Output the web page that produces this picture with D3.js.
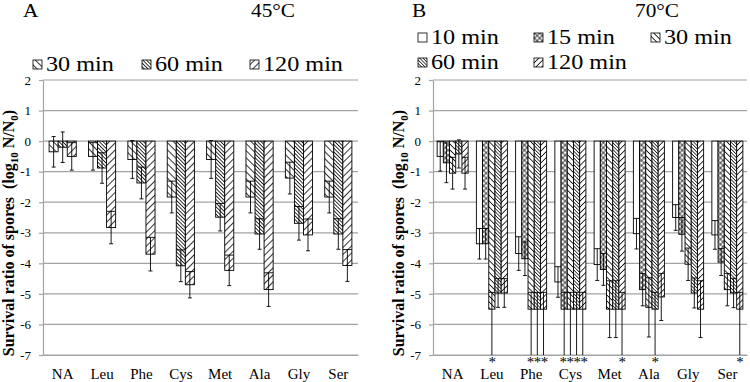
<!DOCTYPE html>
<html><head><meta charset="utf-8">
<script src="https://cdn.jsdelivr.net/npm/d3@7"></script>
<style>
body{margin:0;background:#fff}
svg{display:block;font-family:'Liberation Serif','Times New Roman','DejaVu Serif',serif}
svg text{font-family:'Liberation Serif','Times New Roman','DejaVu Serif',serif;fill:#000}
</style>
</head><body>
<svg id="c" width="750" height="382"></svg>
<script>
// ---------- data ----------
const categories = ["NA","Leu","Phe","Cys","Met","Ala","Gly","Ser"];
const yTicks = [2,1,0,-1,-2,-3,-4,-5,-6,-7];

// Panel A (45°C)
const seriesA = ["30 min","60 min","120 min"];
const a30  = [-0.35,-0.50,-0.60,-1.83,-0.60,-1.83,-1.21,-1.83];
const a60  = [-0.20,-0.88,-1.37,-4.08,-2.49,-3.04,-2.69,-3.04];
const a120 = [-0.50,-2.83,-3.70,-4.70,-4.23,-4.86,-3.07,-4.07];
const eA30  = [0.50,0.45,0.62,0.52,0.62,0.52,0.52,0.52];
const eA60  = [0.50,0.50,0.52,0.52,0.45,0.50,0.55,0.50];
const eA120 = [0.45,0.53,0.55,0.43,0.50,0.55,0.52,0.52];

// Panel B (70°C)
const seriesB = ["10 min","15 min","30 min","60 min","120 min"];
const b10  = [-0.50,-3.36,-3.68,-4.61,-4.04,-3.03,-2.50,-3.07];
const b15  = [-0.71,-3.36,-3.85,-5.50,-4.20,-4.86,-3.05,-3.96];
const b30  = [-1.05,-5.50,-5.50,-5.50,-5.50,-5.44,-4.03,-4.86];
const b60  = [-0.42,-4.97,-5.50,-5.50,-5.50,-5.50,-4.97,-4.97];
const b120 = [-1.05,-4.97,-5.50,-5.50,-5.50,-5.10,-5.50,-5.50];
const eB10  = [0.48,0.50,0.55,0.50,0.52,0.50,0.42,0.47];
const eB15  = [0.65,0.50,0.55,0.55,0.52,0.53,0.55,0.44];
const eB30  = [0.52,0.55,0.55,0.55,0.93,0.97,0.53,0.53];
const eB60  = [0.46,0.47,0.55,0.55,0.93,0.55,0.49,0.48];
const eB120 = [0.52,0.47,0.55,0.55,0.55,0.77,0.93,0.55];
// significance marks (below detection limit): 1 = asterisk
const sB10  = [0,0,0,0,0,0,0,0];
const sB15  = [0,0,0,1,0,0,0,0];
const sB30  = [0,1,1,1,0,0,0,0];
const sB60  = [0,0,1,1,0,1,0,0];
const sB120 = [0,0,1,1,1,0,0,1];

// ---------- drawing ----------
const FONT = "'Liberation Serif','Times New Roman','DejaVu Serif',serif";
const svg = d3.select("#c");
const defs = svg.append("defs");
function pattern(id, type, s, sw){
  const p = defs.append("pattern").attr("id",id).attr("patternUnits","userSpaceOnUse")
    .attr("width",s).attr("height",s)
    .attr("patternTransform", type==="fs" ? "rotate(45)" : "rotate(-45)");
  p.append("rect").attr("width",s).attr("height",s).attr("fill","#fff");
  p.append("line").attr("x1",s/2).attr("x2",s/2).attr("y1",0).attr("y2",s)
    .attr("stroke","#000").attr("stroke-width",sw);
  if(type==="x"){
    p.append("line").attr("y1",s/2).attr("y2",s/2).attr("x1",0).attr("x2",s)
      .attr("stroke","#000").attr("stroke-width",sw);
  }
}
pattern("pA30","bs",5,0.8);
pattern("pA60","bs",2.6,0.8);
pattern("pA120","fs",5,0.8);
pattern("pB15","x",3.6,0.7);
pattern("pB30","bs",4.2,0.8);
pattern("pB60","bs",2.4,0.7);
pattern("pB120","fs",4.2,0.8);

const y = d3.scaleLinear().domain([-7,2]).range([355,80]);
const grid = "#a3a3a3";

function panel(cfg){
  const g = svg.append("g");
  const x = d3.scaleBand().domain(categories).range([cfg.x0,cfg.x1]);
  const gw = x.bandwidth()*cfg.frac;
  const inner = d3.scaleBand().domain(cfg.series).range([0,gw]);
  // gridlines
  g.selectAll("line.grid").data(yTicks).join("line")
    .attr("x1",cfg.x0).attr("x2",cfg.x1).attr("y1",d=>y(d)).attr("y2",d=>y(d))
    .attr("stroke",grid).attr("stroke-width",1.2);
  // y axis
  const ya = g.append("g").attr("transform",`translate(${cfg.x0},0)`)
    .call(d3.axisLeft(y).tickValues(yTicks).tickFormat(d=>String(d)).tickSizeInner(4).tickSizeOuter(0).tickPadding(8));
  ya.selectAll("path,line").attr("stroke",grid).attr("stroke-width",1.2);
  ya.selectAll("text").attr("font-family",FONT).attr("font-size",13);
  // x axis
  const xa = g.append("g").attr("transform",`translate(0,${y(-7)})`)
    .call(d3.axisBottom(x).tickSize(0).tickPadding(13));
  xa.select("path").attr("stroke",grid).attr("stroke-width",1.2);
  xa.selectAll("text").attr("font-family",FONT).attr("font-size",15);

  // bars
  const bw = inner.bandwidth();
  const starPos = categories.map(()=>[]);
  cfg.series.forEach((s,si)=>{
    const vals = cfg.values[si], errs = cfg.errs[si], stars = cfg.stars ? cfg.stars[si] : null;
    categories.forEach((c,ci)=>{
      const v = vals[ci], e = errs[ci];
      const bx = x(c) + (x.bandwidth()-gw)/2 + inner(s);
      const cx = bx + bw/2;
      g.append("rect").attr("x",bx).attr("y",y(0)).attr("width",bw).attr("height",y(v)-y(0))
        .attr("fill", cfg.fills[si]).attr("stroke","#000").attr("stroke-width",0.9);
      const star = stars && stars[ci];
      const top = v+e, bot = star ? -7 : v-e;
      const cap = cfg.cap;
      g.append("line").attr("x1",cx).attr("x2",cx).attr("y1",y(top)).attr("y2",y(bot))
        .attr("stroke","#000").attr("stroke-width",0.9);
      if(top>0){
        g.append("line").attr("x1",cx-cap/2).attr("x2",cx+cap/2).attr("y1",y(top)).attr("y2",y(top))
          .attr("stroke","#000").attr("stroke-width",0.9);
      } else {
        g.append("line").attr("x1",bx).attr("x2",bx+bw).attr("y1",y(top)).attr("y2",y(top))
          .attr("stroke","#000").attr("stroke-width",0.9);
      }
      if(!star){
        g.append("line").attr("x1",cx-cap/2).attr("x2",cx+cap/2).attr("y1",y(bot)).attr("y2",y(bot))
          .attr("stroke","#000").attr("stroke-width",0.9);
      } else {
        starPos[ci].push(cx);
      }
    });
  });
  // asterisks, one text per category
  starPos.forEach(arr=>{
    if(!arr.length) return;
    const m = d3.mean(arr);
    g.append("text").attr("x",m).attr("y",367).attr("text-anchor","middle")
      .attr("font-family",FONT).attr("font-size",15).attr("letter-spacing",-0.5)
      .text("*".repeat(arr.length));
  });

  // titles
  g.append("text").attr("transform",`translate(${cfg.letterX},17) scale(1.12,1)`)
    .attr("font-family",FONT).attr("font-size",19).text(cfg.letter);
  g.append("text").attr("transform",`translate(${cfg.tempX},17) scale(1.12,1)`)
    .attr("font-family",FONT).attr("font-size",19).text(cfg.temp);

  // y title
  const yt = g.append("text").attr("transform",`translate(${cfg.x0-29},233) rotate(-90)`)
    .attr("text-anchor","middle").attr("font-family",FONT).attr("font-size",16)
    .attr("font-weight","bold").style("white-space","pre");
  yt.append("tspan").text("Survival ratio of spores  (log");
  yt.append("tspan").attr("dy",4).attr("font-size",11).text("10");
  yt.append("tspan").attr("dy",-4).text(" N/N");
  yt.append("tspan").attr("dy",4).attr("font-size",11).text("0");
  yt.append("tspan").attr("dy",-4).text(")");

  // legend
  cfg.series.forEach((s,si)=>{
    const L = cfg.legend[si];
    g.append("rect").attr("x",L[0]).attr("y",L[1]).attr("width",9).attr("height",9)
      .attr("fill",cfg.fills[si]).attr("stroke","#000").attr("stroke-width",0.8);
    g.append("text").attr("transform",`translate(${L[0]+13},${L[1]+11}) scale(1.1,1)`)
      .attr("font-family",FONT).attr("font-size",22).text(s);
  });
}

panel({
  x0:43, x1:358, frac:0.69, cap:4, series:seriesA,
  values:[a30,a60,a120], errs:[eA30,eA60,eA120], stars:null,
  fills:["url(#pA30)","url(#pA60)","url(#pA120)"],
  letter:"A", letterX:23, temp:"45°C", tempX:251,
  legend:[[33,60],[142,60],[250,60]]
});
panel({
  x0:433, x1:747, frac:0.79, cap:4, series:seriesB,
  values:[b10,b15,b30,b60,b120], errs:[eB10,eB15,eB30,eB60,eB120],
  stars:[sB10,sB15,sB30,sB60,sB120],
  fills:["#fff","url(#pB15)","url(#pB30)","url(#pB60)","url(#pB120)"],
  letter:"B", letterX:412, temp:"70°C", tempX:635,
  legend:[[418,33],[534,33],[651,33],[418,58],[534,58]]
});
</script>
</body></html>
